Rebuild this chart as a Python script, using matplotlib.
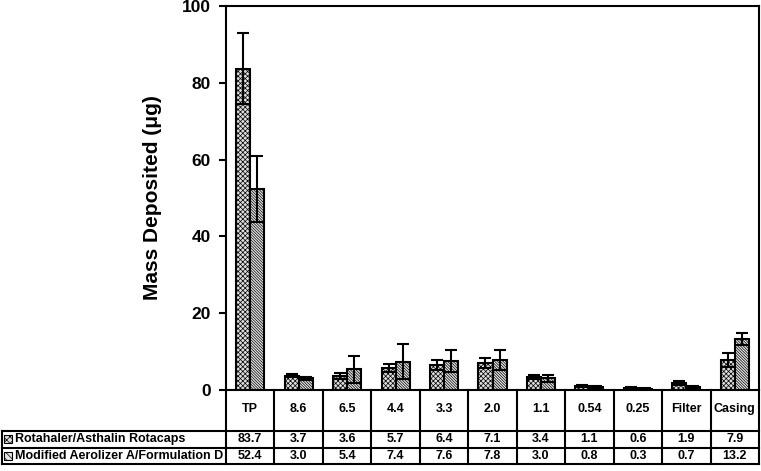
import matplotlib.pyplot as plt
import numpy as np
from matplotlib.patches import Rectangle
from matplotlib.lines import Line2D

# === DATA ===
stages = ['TP', '8.6', '6.5', '4.4', '3.3', '2.0', '1.1', '0.54', '0.25', 'Filter', 'Casing']
series_names = ['Rotahaler/Asthalin Rotacaps', 'Modified Aerolizer A/Formulation D']
rota = [83.7, 3.7, 3.6, 5.7, 6.4, 7.1, 3.4, 1.1, 0.6, 1.9, 7.9]
aero = [52.4, 3.0, 5.4, 7.4, 7.6, 7.8, 3.0, 0.8, 0.3, 0.7, 13.2]
rota_err = [9.2, 0.4, 0.8, 1.0, 1.3, 1.3, 0.6, 0.2, 0.2, 0.5, 1.8]
aero_err = [8.6, 0.3, 3.5, 4.6, 2.9, 2.7, 0.9, 0.2, 0.1, 0.3, 1.6]

plt.rcParams['font.family'] = ['Liberation Sans', 'DejaVu Sans']
plt.rcParams['hatch.linewidth'] = 0.5

fig = plt.figure(figsize=(7.61, 4.71), dpi=100)
ax = fig.add_axes([226 / 761, 81 / 471, 533 / 761, 384 / 471])

x = np.arange(len(stages))
w = 0.29
styles = [dict(facecolor='#dedede', hatch='x' * 7),
          dict(facecolor='#e4e4e4', hatch='\\' * 12)]

ax.bar(x - w / 2, rota, w, edgecolor='black', linewidth=1.5, **styles[0])
ax.bar(x + w / 2, aero, w, edgecolor='black', linewidth=1.5, **styles[1])
ax.errorbar(x - w / 2, rota, yerr=rota_err, fmt='none', ecolor='black',
            elinewidth=1.5, capsize=4, capthick=1.5)
ax.errorbar(x + w / 2, aero, yerr=aero_err, fmt='none', ecolor='black',
            elinewidth=1.5, capsize=4, capthick=1.5)

ax.set_xlim(-0.5, len(stages) - 0.5)
ax.set_ylim(0, 100)
ax.set_yticks([0, 20, 40, 60, 80, 100])
ax.set_xticks([])
ax.tick_params(axis='y', direction='out', length=5, width=1.5, labelsize=12.5, pad=6)
for lab in ax.get_yticklabels():
    lab.set_fontweight('bold')
for s in ax.spines.values():
    s.set_linewidth(1.5)
ax.set_ylabel('Mass Deposited (\u03bcg)', fontsize=15, fontweight='bold', labelpad=14)

# === DATA TABLE BELOW ===
n = len(stages)
ax_w = 533.0
left_px = -226.0 / ax_w  # label column starts at figure left edge
ncol_w = 1.0 / n
header_h = 41 / 384
row_h = 16.5 / 384
y_h = 0.0
y_r1 = -header_h
y_r2 = y_r1 - row_h
y_r3 = y_r2 - row_h
lw = 1.5
kw = dict(transform=ax.transAxes, clip_on=False, color='black', lw=lw)

# horizontal lines
ax.add_line(Line2D([left_px + 0.003, 1], [y_r1, y_r1], **kw))
ax.add_line(Line2D([left_px + 0.003, 1], [y_r2, y_r2], **kw))
ax.add_line(Line2D([left_px + 0.003, 1], [y_r3, y_r3], **kw))
# vertical lines
ax.add_line(Line2D([left_px + 0.003, left_px + 0.003], [y_r1, y_r3], **kw))
for i in range(n + 1):
    xv = i * ncol_w
    ax.add_line(Line2D([xv, xv], [y_h, y_r3], **kw))

for i, st in enumerate(stages):
    xc = (i + 0.5) * ncol_w
    ax.text(xc, (y_h + y_r1) / 2 + 0.005, st, transform=ax.transAxes, ha='center',
            va='center', fontsize=9, fontweight='bold')
    ax.text(xc, (y_r1 + y_r2) / 2, f'{rota[i]:.1f}', transform=ax.transAxes,
            ha='center', va='center', fontsize=9, fontweight='bold')
    ax.text(xc, (y_r2 + y_r3) / 2, f'{aero[i]:.1f}', transform=ax.transAxes,
            ha='center', va='center', fontsize=9, fontweight='bold')

for k, (name, yc) in enumerate(zip(series_names, [(y_r1 + y_r2) / 2, (y_r2 + y_r3) / 2])):
    sq = 8 / ax_w
    sqh = 8 / 384
    ax.add_patch(Rectangle((left_px + 4 / ax_w, yc - sqh / 2), sq, sqh,
                           transform=ax.transAxes, clip_on=False, edgecolor='black',
                           linewidth=0.8, facecolor=styles[k]['facecolor'],
                           hatch=styles[k]['hatch'][:5]))
    ax.text(left_px + 15 / ax_w, yc, name, transform=ax.transAxes, ha='left',
            va='center', fontsize=9, fontweight='bold')

fig.savefig('out.png', dpi=100, facecolor='white')
